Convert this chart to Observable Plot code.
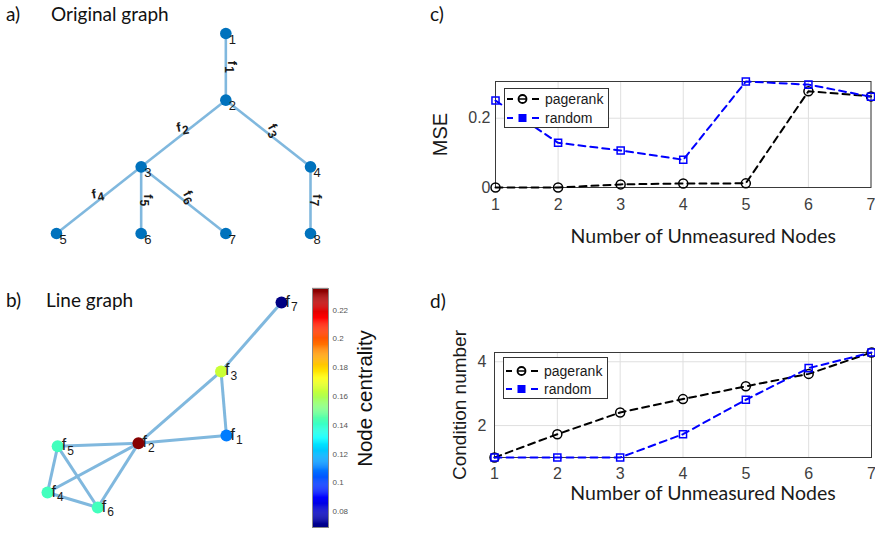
<!DOCTYPE html>
<html><head><meta charset="utf-8">
<script src="https://cdn.jsdelivr.net/npm/d3@7"></script>
<script src="https://cdn.jsdelivr.net/npm/@observablehq/plot@0.6"></script>
<style>
html,body{margin:0;padding:0;background:#fff;}
#fig{position:relative;width:875px;height:533px;overflow:hidden;}
.abs{position:absolute;}
.abs svg{overflow:visible;display:block;}
</style></head><body><div id="fig"></div>
<script>
// ---------- data ----------
// a) original graph (layered layout: x column, layer)
const origNodes = ["1","2","3","4","5","6","7","8"];
const origX = [3,3,2,4,1,2,3,4];
const origLayer = [1,2,3,3,4,4,4,4];
const origEdgeSource = ["1","2","2","3","3","3","4"];
const origEdgeTarget = ["2","3","4","5","6","7","8"];
const origEdgeLabels = ["f_1","f_2","f_3","f_4","f_5","f_6","f_7"];

// b) line graph (layout coordinates) and pagerank node centrality
const lineNodes = ["f_1","f_2","f_3","f_4","f_5","f_6","f_7"];
const lineX = [1.47,0,1.38,-1.52,-1.35,-0.68,2.39];
const lineY = [0.13,0,1.20,-0.82,-0.05,-1.07,2.35];
const centrality = [0.110,0.234,0.164,0.142,0.142,0.142,0.069];
const lineEdgeSource = ["f_7","f_3","f_3","f_1","f_2","f_2","f_2","f_5","f_5","f_4"];
const lineEdgeTarget = ["f_3","f_1","f_2","f_2","f_5","f_4","f_6","f_4","f_6","f_6"];
const centralityTicks = [0.08,0.1,0.12,0.14,0.16,0.18,0.2,0.22];
const centralityRange = [0.069,0.235];

// c) & d)
const unmeasured = [1,2,3,4,5,6,7];
const msePagerank = [0,0,0.009,0.0115,0.012,0.278,0.263];
const mseRandom = [0.251,0.129,0.107,0.080,0.306,0.297,0.262];
const condPagerank = [1.0,1.73,2.41,2.83,3.23,3.62,4.29];
const condRandom = [1.0,1.0,1.0,1.73,2.81,3.80,4.29];
const mseTicks = [0,0.2];
const condTicks = [2,4];
const methods = ["pagerank","random"];

// ---------- helpers ----------
const fig = document.getElementById("fig");
function place(node, left, top){
  const d = document.createElement("div");
  d.className = "abs"; d.style.left = left+"px"; d.style.top = top+"px";
  d.appendChild(node); fig.appendChild(d); return d;
}
function subscripts(svg, dy, size, yShift){
  d3.select(svg).selectAll("text").each(function(){
    const m = /^f_(\d+)$/.exec(this.textContent);
    if(!m) return;
    this.textContent = "";
    if (yShift) this.setAttribute("y", yShift);
    const s = d3.select(this);
    s.append("tspan").text("f");
    s.append("tspan").attr("dy", dy).attr("dx", 1).attr("font-size", size).text(m[1]);
  });
}
const edgeBlue = "#80b8de";
const sans = "'Liberation Sans', Arial, sans-serif";
const labelFont = "Lato, 'Open Sans', sans-serif";

// ---------- panel a ----------
const nodesA = origNodes.map((id,i)=>({id, x:origX[i], y:origLayer[i]}));
const byA = new Map(nodesA.map(d=>[d.id,d]));
const edgesA = origEdgeSource.map((s,i)=>{
  const a = byA.get(s), b = byA.get(origEdgeTarget[i]);
  return {x1:a.x,y1:a.y,x2:b.x,y2:b.y,mx:(a.x+b.x)/2,my:(a.y+b.y)/2,label:origEdgeLabels[i],
    rot: a.x===b.x ? 90 : (b.x<a.x ? -10 : 60)};
});
const plotA = Plot.plot({
  width:440, height:270, margin:0,
  style:{fontFamily:sans, background:"transparent", overflow:"visible"},
  x:{domain:[1,4], range:[56,310], axis:null},
  y:{domain:[1,4], range:[33,233], axis:null},
  marks:[
    Plot.link(edgesA,{x1:"x1",y1:"y1",x2:"x2",y2:"y2",stroke:edgeBlue,strokeWidth:2.6}),
    Plot.dot(nodesA,{x:"x",y:"y",r:5.8,fill:"#0072bd"}),
    Plot.text(nodesA,{x:"x",y:"y",text:"id",textAnchor:"start",dx:3,dy:6,fontSize:13,fill:"#1a1a1a"}),
    Plot.text(edgesA,{x:"mx",y:"my",text:"label",rotate:"rot",textAnchor:"middle",lineAnchor:"bottom",fontSize:13,fontWeight:"bold",fill:"#1a1a1a"})
  ]
});
subscripts(plotA, "0.3em", "12px", "-0.2em");
place(plotA, 0, 0);

// ---------- panel b ----------
const cmin = centralityRange[0], cmax = centralityRange[1];
const jetStops = [0,0.125,0.375,0.625,0.875,1];
const jetColors = ["#000083","#0000ff","#00ffff","#ffff00","#ff0000","#800000"];
const colorOpts = {type:"linear", domain:jetStops.map(t=>cmin+t*(cmax-cmin)), range:jetColors, interpolate:"rgb"};

const nodesB = lineNodes.map((id,i)=>({id, x:lineX[i], y:lineY[i], c:centrality[i]}));
const byB = new Map(nodesB.map(d=>[d.id,d]));
const edgesB = lineEdgeSource.map((s,i)=>{
  const a = byB.get(s), b = byB.get(lineEdgeTarget[i]);
  return {x1:a.x,y1:a.y,x2:b.x,y2:b.y};
});
const plotB = Plot.plot({
  width:300, height:263, margin:0,
  style:{fontFamily:sans, background:"transparent", overflow:"visible"},
  x:{domain:[-1.52,2.39], range:[47,281], axis:null},
  y:{domain:[-1.07,2.35], range:[237,32], axis:null},
  color:colorOpts,
  marks:[
    Plot.link(edgesB,{x1:"x1",y1:"y1",x2:"x2",y2:"y2",stroke:edgeBlue,strokeWidth:3}),
    Plot.dot(nodesB,{x:"x",y:"y",r:6,fill:"c"}),
    Plot.text(nodesB,{x:"x",y:"y",text:"id",textAnchor:"start",lineAnchor:"bottom",dx:4,dy:4,fontSize:16,fill:"#1a1a1a"})
  ]
});
subscripts(plotB, "0.36em", "12px", null);
place(plotB, 0, 270);

// colorbar
const ramp = d3.range(0,230).map(i=>cmin+(i+0.5)*(cmax-cmin)/230);
const rh = (cmax-cmin)/230;
const plotCb = Plot.plot({
  width:100, height:263, marginLeft:12, marginRight:72, marginTop:18, marginBottom:6,
  style:{fontFamily:sans, fontSize:"8px", color:"#555", background:"transparent", overflow:"visible"},
  x:{domain:[0,1], axis:null},
  y:{domain:[cmin,cmax], axis:"right", ticks:centralityTicks, tickSize:0, tickPadding:4, tickFormat:d=>String(d), label:null},
  color:colorOpts,
  marks:[
    Plot.rect(ramp,{x1:0,x2:1,y1:d=>d-rh*0.6,y2:d=>d+rh*0.6,fill:d=>d}),
    Plot.frame({stroke:"#888"}),
    Plot.text(["Node centrality"],{text:d=>d,frameAnchor:"right",textAnchor:"middle",dx:37,dy:-9.5,rotate:-90,fontSize:20.5,fill:"#111",fontFamily:sans})
  ]
});
place(plotCb, 300, 270);

// ---------- panels c & d ----------
function seriesTable(a, b){
  return [...unmeasured.map((n,i)=>({n, v:a[i], m:methods[0]})), ...unmeasured.map((n,i)=>({n, v:b[i], m:methods[1]}))];
}
function lineChart(opts){
  const data = seriesTable(opts.a, opts.b);
  const pr = data.filter(d=>d.m==="pagerank"), rd = data.filter(d=>d.m==="random");
  return Plot.plot({
    width:435, height:opts.height, marginLeft:opts.ml, marginRight:opts.mr, marginTop:opts.mt, marginBottom:opts.mb,
    style:{fontFamily:sans, fontSize:"16px", color:"#404040", background:"transparent", overflow:"visible"},
    x:{domain:[1,7], ticks:unmeasured, tickSize:0, tickPadding:opts.xpad, tickFormat:d=>String(d), label:null},
    y:{domain:opts.ydomain, ticks:opts.yticks, tickSize:0, tickPadding:opts.ypad, tickFormat:d=>String(d), label:null},
    marks:[
      Plot.ruleX(unmeasured,{stroke:"#dfdfdf"}),
      Plot.ruleY(opts.yticks,{stroke:"#dfdfdf"}),
      Plot.frame({stroke:"#3a3a3a"}),
      Plot.line(pr,{x:"n",y:"v",stroke:"#000",strokeWidth:2,strokeDasharray:"7,5"}),
      Plot.dot(pr,{x:"n",y:"v",r:4.5,stroke:"#000",strokeWidth:1.5,fill:"none"}),
      Plot.line(rd,{x:"n",y:"v",stroke:"#0000ff",strokeWidth:2,strokeDasharray:"7,5"}),
      Plot.dot(rd,{x:"n",y:"v",symbol:"square",r:4,stroke:"#0000ff",strokeWidth:1.5,fill:"none"}),
      Plot.text([opts.ylabel],{text:d=>d,frameAnchor:"left",textAnchor:"middle",dx:opts.ylabDx,rotate:-90,fontSize:opts.ylabSize,fill:"#1a1a1a",fontFamily:sans}),
      Plot.text(["Number of Unmeasured Nodes"],{text:d=>d,frameAnchor:"bottom",textAnchor:"middle",dx:20,dy:opts.xlabDy,lineAnchor:"bottom",fontSize:19.5,fill:"#1a1a1a",fontFamily:labelFont})
    ]
  });
}
const plotC = lineChart({a:msePagerank,b:mseRandom,height:260,ml:55,mr:4.5,mt:81,mb:73,xpad:11,ypad:5,
  ydomain:[0,0.306],yticks:mseTicks,ylabel:"MSE",ylabDx:-55,ylabSize:20,xlabDy:55});
place(plotC, 440, 0);
const plotD = lineChart({a:condPagerank,b:condRandom,height:273,ml:54,mr:4,mt:92,mb:76,xpad:10,ypad:8,
  ydomain:[1,4.29],yticks:condTicks,ylabel:"Condition number",ylabDx:-35,ylabSize:19,xlabDy:42});
place(plotD, 440, 260);

// legends
function legend(left, top, w, h, rows){
  const svg = d3.create("svg").attr("width", w).attr("height", h);
  svg.append("rect").attr("x",0.5).attr("y",0.5).attr("width",w-1).attr("height",h-1).attr("fill","#fff").attr("stroke","#333");
  methods.forEach((m,i)=>{
    const y = rows[i], col = m==="pagerank" ? "#000" : "#0000ff";
    const g = svg.append("g");
    g.append("line").attr("x1",3).attr("x2",9).attr("y1",y).attr("y2",y).attr("stroke",col).attr("stroke-width",2);
    g.append("line").attr("x1",28).attr("x2",35).attr("y1",y).attr("y2",y).attr("stroke",col).attr("stroke-width",2);
    if (m==="pagerank"){
      g.append("circle").attr("cx",18.5).attr("cy",y).attr("r",4).attr("fill","none").attr("stroke",col).attr("stroke-width",1.8);
      g.append("line").attr("x1",15).attr("x2",22).attr("y1",y).attr("y2",y).attr("stroke",col).attr("stroke-width",1.5);
    } else {
      g.append("rect").attr("x",14.5).attr("y",y-4).attr("width",8).attr("height",8).attr("fill",col);
    }
    g.append("text").attr("x",41).attr("y",y).attr("dy","0.35em").attr("font-family",sans).attr("font-size",14).attr("fill","#1a1a1a").text(m);
  });
  place(svg.node(), left, top);
}
legend(504, 88, 105, 40, [11, 30]);
legend(503, 357, 105, 42, [14, 32]);

// panel titles
const ov = d3.create("svg").attr("width",875).attr("height",533);
const titles = [["a)",6,21],["Original graph",51,21],["c)",430,21],["b)",6,307],["Line graph",46,307],["d)",430,308]];
ov.selectAll("text").data(titles).join("text")
  .attr("x",d=>d[1]).attr("y",d=>d[2]).attr("font-family",labelFont).attr("font-size",19).attr("fill","#111").text(d=>d[0]);
const ovd = place(ov.node(), 0, 0); ovd.style.pointerEvents = "none";
</script></body></html>
